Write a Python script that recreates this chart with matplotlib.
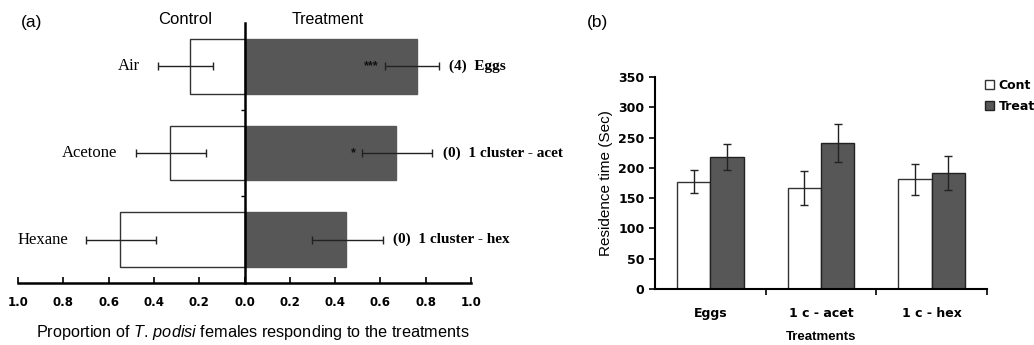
import matplotlib
matplotlib.use("Agg")
import matplotlib.pyplot as plt
import numpy as np

plt.rcParams["font.family"] = "Liberation Sans"
plt.rcParams["mathtext.fontset"] = "custom"
plt.rcParams["mathtext.it"] = "Liberation Sans:italic"
plt.rcParams["mathtext.rm"] = "Liberation Sans"

# ---- panel (a): proportion of females choosing each side
odours = ["Air", "Acetone", "Hexane"]
stimuli = ["(4)  Eggs", "(0)  1 cluster - acet", "(0)  1 cluster - hex"]
prop_control = [0.24, 0.33, 0.55]
prop_treat = [0.76, 0.67, 0.45]
# interval of treatment proportion (low, high); control side is its mirror
ci_low = [0.62, 0.52, 0.30]
ci_high = [0.86, 0.83, 0.61]
stars = ["***", "*", ""]
xticks_a = [-1.0, -0.8, -0.6, -0.4, -0.2, 0.0, 0.2, 0.4, 0.6, 0.8, 1.0]

# ---- panel (b): residence time
groups = ["Eggs", "1 c - acet", "1 c - hex"]
res_cont = [177, 167, 181]
res_treat = [218, 241, 191]
err_cont = [19, 28, 26]
err_treat = [22, 32, 28]

DARK = "#575757"
WIDE = "DejaVu Sans"

fig = plt.figure(figsize=(10.34, 3.45), dpi=100)

# ---------------- panel (a)
ax = fig.add_axes([18 / 1034, 1 - 283 / 345, 453 / 1034, 260 / 345])
y = np.arange(len(odours))
h = 0.63
ax.barh(y, [-v for v in prop_control], height=h, color="white", edgecolor="#333333", linewidth=1.0)
ax.barh(y, prop_treat, height=h, color=DARK, edgecolor=DARK, linewidth=1.0)

for i in range(len(odours)):
    # treatment side
    lo, hi = ci_low[i], ci_high[i]
    ax.errorbar(prop_treat[i], y[i], xerr=[[prop_treat[i] - lo], [hi - prop_treat[i]]],
                fmt="none", ecolor="#222222", elinewidth=1.0, capsize=3)
    # control side (mirror)
    c_lo, c_hi = 1 - hi, 1 - lo
    ax.errorbar(-prop_control[i], y[i], xerr=[[c_hi - prop_control[i]], [prop_control[i] - c_lo]],
                fmt="none", ecolor="#222222", elinewidth=1.0, capsize=3)
    ax.text(-c_hi - 0.08, y[i], odours[i], ha="right", va="center",
            fontsize=12, family="Liberation Serif")
    ax.text(hi + 0.045, y[i], stimuli[i], ha="left", va="center",
            fontsize=11, family="Liberation Serif", fontweight="bold", clip_on=False)
    if stars[i]:
        ax.text(lo - 0.03, y[i], stars[i], ha="right", va="center",
                fontsize=9, color="#111111", fontweight="bold")

ax.set_xlim(-1.0, 1.0)
ax.set_ylim(2.5, -0.5)
ax.set_xticks(xticks_a)
ax.set_xticklabels([f"{abs(v):.1f}" for v in xticks_a], fontsize=8.5,
                   fontweight="bold", family=WIDE)
ax.set_yticks([0.5, 1.5])
ax.set_yticklabels([])
ax.tick_params(axis="x", direction="in", length=4, width=1.2, pad=9)
ax.tick_params(axis="y", direction="out", length=3, width=1.0)
ax.spines["left"].set_position(("data", 0))
ax.spines["left"].set_linewidth(1.8)
ax.spines["bottom"].set_linewidth(1.8)
ax.spines["top"].set_visible(False)
ax.spines["right"].set_visible(False)

fig.text(253 / 1034, 1 - 333 / 345,
         "Proportion of $\\it{T.\\,podisi}$ females responding to the treatments",
         fontsize=11.7, ha="center", va="center")
fig.text(32 / 1034, 1 - 23 / 345, "(a)", fontsize=12.5, ha="center", va="center")
fig.text(185 / 1034, 1 - 20 / 345, "Control", fontsize=12, ha="center", va="center")
fig.text(328 / 1034, 1 - 20 / 345, "Treatment", fontsize=11.5, ha="center", va="center")

# ---------------- panel (b)
bx = fig.add_axes([655 / 1034, 1 - 289 / 345, 332 / 1034, 212 / 345])
xg = np.arange(len(groups))
w = 0.3
bx.bar(xg - w / 2, res_cont, width=w, color="white", edgecolor="#333333", linewidth=1.0, label="Cont")
bx.bar(xg + w / 2, res_treat, width=w, color=DARK, edgecolor="#222222", linewidth=1.0, label="Treat")
bx.errorbar(xg - w / 2, res_cont, yerr=err_cont, fmt="none", ecolor="#222222", elinewidth=1.0, capsize=3)
bx.errorbar(xg + w / 2, res_treat, yerr=err_treat, fmt="none", ecolor="#222222", elinewidth=1.0, capsize=3)

bx.set_xlim(-0.5, 2.5)
bx.set_ylim(0, 350)
bx.set_yticks(range(0, 351, 50))
bx.set_yticklabels([str(v) for v in range(0, 351, 50)], fontsize=9,
                   fontweight="bold", family=WIDE)
bx.tick_params(axis="y", length=4, width=1.2)
bx.set_xticks([0.5, 1.5, 2.5])
bx.set_xticklabels([])
bx.set_xticks(xg, minor=True)
bx.set_xticklabels(groups, minor=True, fontsize=9, fontweight="bold", family=WIDE)
bx.tick_params(axis="x", which="major", length=4, width=1.2)
bx.tick_params(axis="x", which="minor", length=0, pad=13)
bx.spines["top"].set_visible(False)
bx.spines["right"].set_visible(False)
bx.spines["left"].set_linewidth(1.5)
bx.spines["bottom"].set_linewidth(1.5)
bx.set_ylabel("Residence time (Sec)", fontsize=11, labelpad=4)
bx.set_xlabel("Treatments", fontsize=9.5, fontweight="bold", labelpad=8)
bx.legend(loc="upper left", bbox_to_anchor=(985 / 1034, 1 - 79 / 345),
          bbox_transform=fig.transFigure, frameon=False,
          prop={"family": WIDE, "weight": "bold", "size": 9},
          handlelength=0.7, handleheight=0.7, handletextpad=0.4, borderpad=0,
          borderaxespad=0, labelspacing=0.65)

fig.text(598 / 1034, 1 - 23 / 345, "(b)", fontsize=12.5, ha="center", va="center")

fig.savefig("out.png", dpi=100)
